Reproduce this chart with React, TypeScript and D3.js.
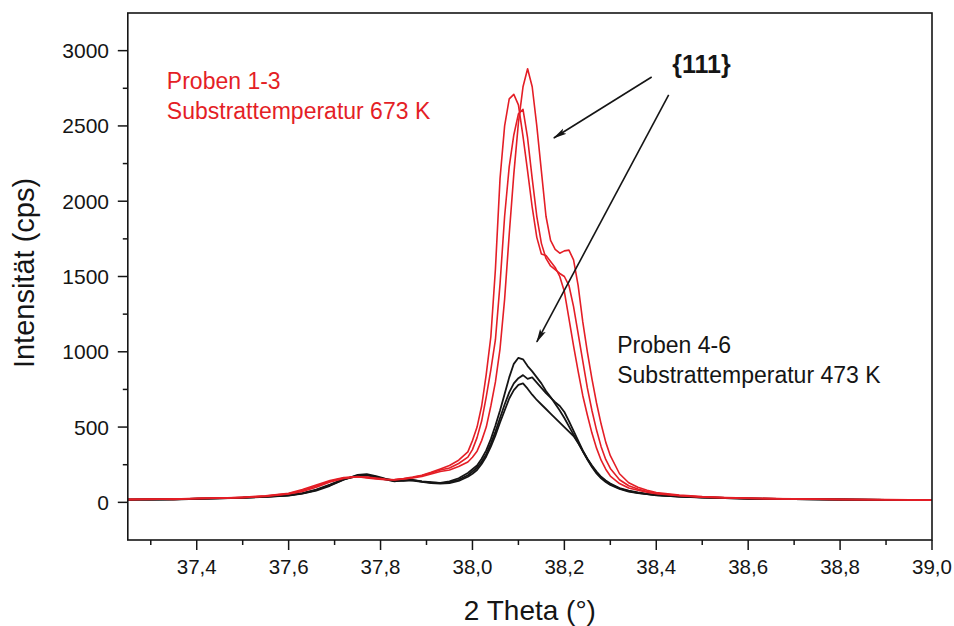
import React from 'react';
import * as d3 from 'd3';

// 2-Theta grid (degrees)
const THETA = [
  37.25, 37.30, 37.35, 37.40, 37.45, 37.50, 37.55, 37.60,
  37.63, 37.66, 37.69, 37.72, 37.75, 37.77, 37.79, 37.81, 37.83, 37.85, 37.87, 37.89, 37.91, 37.93,
  37.95, 37.97, 37.99,
  38.00, 38.01, 38.02, 38.03, 38.04, 38.05, 38.06, 38.07, 38.08, 38.09,
  38.10, 38.11, 38.12, 38.13, 38.14, 38.15, 38.16, 38.17, 38.18, 38.19,
  38.20, 38.21, 38.22, 38.23, 38.24, 38.25, 38.26, 38.27, 38.28, 38.29, 38.30,
  38.32, 38.34, 38.36, 38.38, 38.40,
  38.45, 38.50, 38.55, 38.60, 38.70, 38.80, 38.90, 39.00,
];

// Proben 1-3 (673 K) – red
const PROBE_1 = [
  18, 22, 20, 26, 28, 33, 40, 55,
  72, 100, 135, 158, 170, 168, 162, 155, 150, 156, 162, 172, 188, 205,
  215, 238, 268,
  300, 340, 410, 500, 640, 800, 1020, 1350, 1780, 2180,
  2520, 2760, 2880, 2760, 2500, 2200, 1900, 1740, 1680, 1655,
  1670, 1675, 1610, 1440, 1200, 1000, 820, 660, 520, 400, 310,
  190, 130, 100, 80, 65,
  48, 38, 32, 28, 22, 20, 18, 16,
];
const PROBE_2 = [
  19, 21, 22, 27, 27, 34, 44, 60,
  85, 115, 145, 165, 170, 162, 155, 150, 152, 158, 168, 180, 200, 222,
  245, 280, 335,
  410, 500, 640, 850, 1100, 1550, 2150, 2500, 2680, 2710,
  2640, 2430, 2200, 1960, 1760, 1650, 1640, 1600, 1560, 1500,
  1400, 1220, 1040, 870, 710, 580, 460, 360, 280, 220, 175,
  125, 95, 80, 68, 57,
  44, 35, 30, 26, 22, 19, 17, 16,
];
const PROBE_3 = [
  20, 19, 24, 25, 30, 31, 42, 58,
  78, 108, 140, 162, 172, 166, 158, 152, 148, 155, 165, 178, 195, 215,
  228, 258, 300,
  350, 430, 540, 700, 880, 1080, 1450, 1900, 2230, 2440,
  2580, 2610, 2420, 2150, 1900, 1720, 1620, 1570, 1545, 1520,
  1500, 1440, 1300, 1120, 940, 760, 610, 480, 370, 285, 225,
  150, 110, 88, 72, 60,
  46, 36, 31, 27, 23, 19, 17, 15,
];

// Proben 4-6 (473 K) – black
const PROBE_4 = [
  17, 20, 19, 24, 27, 30, 36, 45,
  58, 78, 110, 150, 182, 188, 175, 158, 145, 142, 148, 138, 132, 130,
  140, 160, 195,
  220, 245, 290, 345, 420, 510, 610, 720, 830, 920,
  960, 950, 905, 870, 830, 790, 740, 700, 655, 610,
  560, 505, 450, 395, 340, 290, 245, 205, 170, 145, 125,
  95, 78, 66, 57, 50,
  40, 34, 30, 26, 22, 19, 17, 15,
];
const PROBE_5 = [
  19, 18, 22, 23, 28, 31, 38, 48,
  62, 85, 118, 155, 178, 180, 168, 152, 140, 146, 150, 140, 135, 128,
  132, 150, 180,
  205, 230, 270, 320, 390, 470, 560, 650, 730, 790,
  825, 845, 820, 830, 795, 760, 725, 695, 665, 640,
  600, 540, 475, 410, 345, 290, 240, 198, 165, 140, 120,
  92, 74, 63, 55, 48,
  39, 33, 29, 25, 21, 19, 16, 15,
];
const PROBE_6 = [
  18, 21, 20, 25, 26, 32, 37, 46,
  60, 82, 115, 152, 175, 182, 170, 155, 142, 148, 145, 136, 128, 125,
  128, 142, 170,
  190, 215, 255, 305, 370, 445, 530, 610, 690, 745,
  780, 790, 755, 715, 680, 650, 620, 590, 560, 530,
  500, 470, 440, 395, 340, 285, 235, 192, 160, 135, 115,
  90, 72, 62, 54, 47,
  38, 32, 28, 24, 21, 18, 16, 15,
];

const RED_SERIES = [PROBE_1, PROBE_2, PROBE_3];
const BLACK_SERIES = [PROBE_4, PROBE_5, PROBE_6];

const X_TICKS = [37.4, 37.6, 37.8, 38.0, 38.2, 38.4, 38.6, 38.8, 39.0];
const X_MINOR = [37.3, 37.5, 37.7, 37.9, 38.1, 38.3, 38.5, 38.7, 38.9];
const Y_TICKS = [0, 500, 1000, 1500, 2000, 2500, 3000];
const Y_MINOR = [250, 750, 1250, 1750, 2250, 2750];

const X_LABEL = '2 Theta (°)';
const Y_LABEL = 'Intensität (cps)';
const RED_TEXT = ['Proben 1-3', 'Substrattemperatur 673 K'];
const BLACK_TEXT = ['Proben 4-6', 'Substrattemperatur 473 K'];
const PEAK_LABEL = '{111}';

const RED = '#e41e26';
const INK = '#151515';
const FONT = '"Liberation Sans", Arial, Helvetica, sans-serif';

export default function App() {
  const W = 954;
  const H = 626;
  const left = 127.8;
  const right = 932;
  const top = 13;
  const bottom = 540;

  const x = d3.scaleLinear().domain([37.25, 39.0]).range([left, right]);
  const y = d3.scaleLinear().domain([-250, 3250]).range([bottom, top]);

  const line = d3
    .line<number>()
    .x((_, i) => x(THETA[i]))
    .y((d) => y(d))
    .curve(d3.curveLinear);

  const fmt = (v: number) => d3.format('.1f')(v).replace('.', ',');

  // annotation anchors in data units
  const arrows = [
    { from: [38.39, 2825], to: [38.177, 2420] },
    { from: [38.427, 2706], to: [38.14, 1066] },
  ];

  return (
    <svg
      width={W}
      height={H}
      style={{ position: 'absolute', left: 0, top: 0, background: '#fff' }}
      fontFamily={FONT}
    >
      <defs>
        <marker
          id="arr"
          viewBox="0 0 14 8"
          refX="13"
          refY="4"
          markerWidth="14"
          markerHeight="8"
          markerUnits="userSpaceOnUse"
          orient="auto"
        >
          <path d="M0,0.8 L14,4 L0,7.2 L3,4 Z" fill={INK} />
        </marker>
        <clipPath id="plot">
          <rect x={left} y={top} width={right - left} height={bottom - top} />
        </clipPath>
      </defs>

      <rect x={0} y={0} width={W} height={H} fill="#fff" />

      {/* data */}
      <g clipPath="url(#plot)" fill="none" strokeLinejoin="round">
        {BLACK_SERIES.map((s, i) => (
          <path key={'b' + i} d={line(s) || ''} stroke={INK} strokeWidth={1.8} />
        ))}
        {RED_SERIES.map((s, i) => (
          <path key={'r' + i} d={line(s) || ''} stroke={RED} strokeWidth={1.6} />
        ))}
      </g>

      {/* frame */}
      <rect
        x={left}
        y={top}
        width={right - left}
        height={bottom - top}
        fill="none"
        stroke={INK}
        strokeWidth={1.6}
      />

      {/* x ticks */}
      {X_TICKS.map((t) => (
        <g key={'xt' + t}>
          <line x1={x(t)} x2={x(t)} y1={bottom} y2={bottom + 10} stroke={INK} strokeWidth={1.5} />
          <text x={x(t)} y={574} textAnchor="middle" fontSize={20.5} fill={INK}>
            {fmt(t)}
          </text>
        </g>
      ))}
      {X_MINOR.map((t) => (
        <line key={'xm' + t} x1={x(t)} x2={x(t)} y1={bottom} y2={bottom + 5} stroke={INK} strokeWidth={1.5} />
      ))}

      {/* y ticks */}
      {Y_TICKS.map((t) => (
        <g key={'yt' + t}>
          <line x1={left - 10} x2={left} y1={y(t)} y2={y(t)} stroke={INK} strokeWidth={1.5} />
          <text x={109} y={y(t)} dy="0.36em" textAnchor="end" fontSize={21} fill={INK}>
            {t}
          </text>
        </g>
      ))}
      {Y_MINOR.map((t) => (
        <line key={'ym' + t} x1={left - 5} x2={left} y1={y(t)} y2={y(t)} stroke={INK} strokeWidth={1.5} />
      ))}

      {/* axis titles */}
      <text x={(left + right) / 2} y={620} textAnchor="middle" fontSize={28} fill={INK}>
        {X_LABEL}
      </text>
      <text
        transform={`translate(34, 273) rotate(-90)`}
        textAnchor="middle"
        fontSize={29}
        fill={INK}
      >
        {Y_LABEL}
      </text>

      {/* annotations */}
      {RED_TEXT.map((t, i) => (
        <text key={'rt' + i} x={x(37.335)} y={y(2745) + i * 30} fontSize={23} fill={RED}>
          {t}
        </text>
      ))}
      {BLACK_TEXT.map((t, i) => (
        <text key={'bt' + i} x={x(38.315)} y={y(992) + i * 30} fontSize={23} fill={INK}>
          {t}
        </text>
      ))}
      <text x={x(38.435)} y={y(2850)} fontSize={25} fontWeight="bold" fill={INK}>
        {PEAK_LABEL}
      </text>
      {arrows.map((a, i) => (
        <line
          key={'ar' + i}
          x1={x(a.from[0])}
          y1={y(a.from[1])}
          x2={x(a.to[0])}
          y2={y(a.to[1])}
          stroke={INK}
          strokeWidth={1.6}
          markerEnd="url(#arr)"
        />
      ))}
    </svg>
  );
}
